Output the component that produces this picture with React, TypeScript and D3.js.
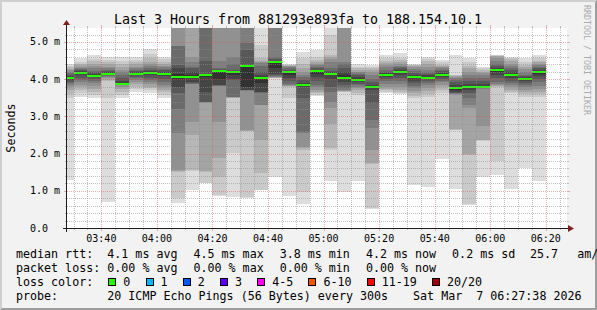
import React from "react";
import * as d3 from "d3";

// ---------- data ----------
const title = "Last 3 Hours from 881293e893fa to 188.154.10.1";
const startTime = "2026-03-07T03:27:38";
const endTime = "2026-03-07T06:27:38";
const firstSampleEnd = "2026-03-07T03:30:00";
const stepSeconds = 300;
const yMax = 5.376; // ms
const yTickValues = [0, 1, 2, 3, 4, 5];
const yTickLabels = ["0.0", "1.0 m", "2.0 m", "3.0 m", "4.0 m", "5.0 m"];
const xTickLabels = ["03:40", "04:00", "04:20", "04:40", "05:00", "05:20", "05:40", "06:00", "06:20"];
const yAxisTitle = "Seconds";
const watermark = "RRDTOOL / TOBI OETIKER";

// median RTT per 5-minute step (ms)
const medians = [
  4.02, 4.17, 4.09, 4.14, 3.87, 4.14, 4.16, 4.14, 4.07, 4.05,
  4.12, 4.23, 4.20, 4.36, 4.02, 4.47, 4.19, 3.84, 4.22, 4.14,
  4.04, 3.99, 3.79, 4.10, 4.20, 4.06, 4.04, 4.11, 3.75, 3.78,
  3.78, 4.24, 4.11, 4.01, 4.20,
];

// 20 sorted ping RTTs per step (ms)
const pings = [
  [1.29, 3.49, 3.60, 3.70, 3.78, 3.85, 3.90, 3.93, 3.97, 4.00, 4.04, 4.08, 4.12, 4.16, 4.20, 4.24, 4.28, 4.32, 4.36, 4.40],
  [3.53, 3.62, 3.70, 3.78, 3.85, 3.93, 3.98, 4.04, 4.10, 4.15, 4.19, 4.21, 4.24, 4.27, 4.30, 4.34, 4.38, 4.42, 4.47, 4.56],
  [3.50, 3.58, 3.66, 3.74, 3.82, 3.90, 3.96, 4.01, 4.05, 4.08, 4.10, 4.14, 4.18, 4.23, 4.29, 4.35, 4.42, 4.48, 4.55, 4.65],
  [0.71, 3.49, 3.95, 3.99, 4.02, 4.05, 4.08, 4.10, 4.12, 4.13, 4.15, 4.18, 4.22, 4.26, 4.30, 4.34, 4.40, 4.46, 4.52, 4.60],
  [3.49, 3.58, 3.66, 3.74, 3.80, 3.84, 3.86, 3.87, 3.88, 3.89, 3.90, 3.95, 4.02, 4.10, 4.18, 4.26, 4.33, 4.40, 4.48, 4.59],
  [3.66, 3.74, 3.80, 3.86, 3.92, 3.98, 4.03, 4.07, 4.10, 4.13, 4.15, 4.18, 4.21, 4.25, 4.29, 4.34, 4.40, 4.45, 4.51, 4.59],
  [3.62, 3.70, 3.76, 3.80, 3.86, 3.92, 3.98, 4.04, 4.10, 4.14, 4.18, 4.21, 4.25, 4.30, 4.36, 4.41, 4.47, 4.58, 4.69, 4.80],
  [3.50, 3.58, 3.66, 3.72, 3.78, 3.85, 3.92, 4.00, 4.08, 4.12, 4.16, 4.20, 4.24, 4.28, 4.32, 4.36, 4.40, 4.46, 4.53, 4.60],
  [0.68, 0.80, 1.50, 1.52, 1.55, 2.55, 3.20, 3.62, 3.80, 4.00, 4.15, 4.30, 4.38, 4.88, 4.90, 5.40, 5.45, 5.50, 5.55, 5.60],
  [1.02, 1.52, 1.55, 2.50, 2.86, 3.86, 3.88, 3.90, 3.93, 4.02, 4.10, 4.20, 4.29, 4.32, 4.45, 4.60, 5.40, 5.45, 5.50, 5.60],
  [1.20, 1.21, 1.50, 1.52, 3.37, 3.38, 3.39, 3.40, 3.66, 4.05, 4.10, 4.12, 4.50, 5.40, 5.42, 5.45, 5.50, 5.52, 5.55, 5.60],
  [0.87, 0.89, 1.38, 1.87, 2.86, 3.82, 3.83, 3.84, 3.85, 4.00, 4.22, 4.25, 4.27, 4.29, 4.50, 5.40, 5.45, 5.50, 5.55, 5.60],
  [0.82, 2.01, 3.49, 3.50, 3.51, 3.52, 3.53, 3.99, 4.00, 4.10, 4.20, 4.22, 4.25, 4.40, 4.60, 5.40, 5.45, 5.50, 5.55, 5.60],
  [0.80, 0.82, 2.61, 2.62, 2.63, 3.69, 3.70, 3.71, 3.72, 3.80, 4.37, 4.38, 4.78, 4.96, 5.40, 5.45, 5.50, 5.55, 5.60, 5.65],
  [1.01, 1.02, 1.47, 2.37, 3.30, 3.31, 3.64, 3.65, 3.66, 3.90, 4.03, 4.10, 4.20, 4.35, 4.43, 4.45, 4.50, 4.56, 4.92, 5.50],
  [1.38, 4.02, 4.03, 4.04, 4.05, 4.06, 4.08, 4.10, 4.15, 4.30, 4.45, 4.50, 4.55, 4.60, 5.40, 5.45, 5.50, 5.55, 5.60, 5.65],
  [0.87, 3.49, 3.80, 3.81, 3.82, 3.84, 3.88, 3.94, 4.02, 4.10, 4.18, 4.22, 4.26, 4.30, 4.33, 4.35, 4.36, 4.37, 4.38, 4.40],
  [0.65, 0.98, 2.10, 2.15, 2.19, 2.55, 2.59, 3.49, 3.80, 3.82, 3.86, 3.90, 3.98, 4.05, 4.11, 4.20, 4.29, 4.40, 4.56, 4.74],
  [3.56, 3.58, 3.62, 3.66, 3.70, 3.78, 3.85, 3.95, 4.05, 4.15, 4.22, 4.26, 4.30, 4.34, 4.37, 4.40, 4.46, 4.52, 4.60, 4.78],
  [1.25, 2.10, 2.14, 2.80, 3.22, 3.40, 3.66, 3.80, 4.00, 4.10, 4.15, 4.18, 4.22, 4.30, 4.45, 4.55, 4.60, 4.65, 5.19, 5.45],
  [0.96, 3.65, 3.66, 3.67, 3.68, 3.70, 3.75, 3.85, 3.93, 4.00, 4.10, 4.20, 4.30, 4.40, 4.47, 5.40, 5.45, 5.50, 5.55, 5.60],
  [1.25, 3.58, 3.62, 3.70, 3.76, 3.80, 3.84, 3.88, 3.92, 3.97, 4.01, 4.05, 4.10, 4.14, 4.18, 4.20, 4.25, 4.30, 4.34, 4.40],
  [0.52, 0.55, 1.72, 1.74, 2.10, 2.68, 2.90, 3.35, 3.70, 3.78, 3.81, 3.85, 3.92, 4.00, 4.10, 4.18, 4.25, 4.30, 4.34, 4.38],
  [3.62, 3.66, 3.70, 3.74, 3.80, 3.88, 3.95, 4.00, 4.05, 4.08, 4.12, 4.16, 4.20, 4.26, 4.32, 4.38, 4.44, 4.50, 4.56, 4.65],
  [3.59, 3.62, 3.66, 3.72, 3.80, 3.88, 3.96, 4.04, 4.12, 4.17, 4.22, 4.26, 4.29, 4.32, 4.36, 4.40, 4.46, 4.52, 4.58, 4.70],
  [1.16, 3.49, 3.55, 3.62, 3.68, 3.75, 3.82, 3.90, 3.96, 4.02, 4.08, 4.12, 4.16, 4.22, 4.28, 4.32, 4.36, 4.38, 4.39, 4.40],
  [1.10, 3.53, 3.60, 3.68, 3.76, 3.84, 3.90, 3.96, 4.00, 4.03, 4.06, 4.10, 4.15, 4.20, 4.26, 4.32, 4.40, 4.48, 4.54, 4.60],
  [1.86, 3.62, 3.70, 3.78, 3.85, 3.92, 3.96, 4.00, 4.05, 4.09, 4.13, 4.17, 4.21, 4.25, 4.29, 4.32, 4.35, 4.38, 4.45, 4.52],
  [1.05, 2.63, 2.64, 2.65, 3.58, 3.60, 3.62, 3.64, 3.66, 3.72, 3.78, 3.85, 3.92, 3.98, 4.03, 4.06, 4.08, 4.10, 4.11, 4.65],
  [0.62, 0.64, 1.96, 1.98, 3.22, 3.30, 3.50, 3.62, 3.70, 3.76, 3.80, 3.86, 3.94, 4.02, 4.11, 4.20, 4.29, 4.35, 4.45, 4.56],
  [1.36, 2.35, 2.36, 2.37, 2.73, 3.74, 3.75, 3.76, 3.77, 3.78, 3.82, 3.88, 3.94, 4.02, 4.11, 4.16, 4.20, 4.25, 4.30, 4.34],
  [1.42, 1.80, 3.80, 3.82, 3.84, 3.86, 3.92, 4.02, 4.10, 4.20, 4.26, 4.29, 4.35, 4.42, 4.50, 4.56, 4.62, 4.63, 4.64, 4.65],
  [1.05, 3.62, 3.66, 3.72, 3.78, 3.84, 3.90, 3.96, 4.04, 4.09, 4.13, 4.18, 4.24, 4.29, 4.35, 4.42, 4.50, 4.55, 4.58, 4.60],
  [1.60, 3.53, 3.60, 3.66, 3.72, 3.78, 3.84, 3.90, 3.95, 4.00, 4.03, 4.06, 4.09, 4.12, 4.20, 4.28, 4.34, 4.38, 4.46, 4.56],
  [1.25, 3.53, 3.60, 3.66, 3.74, 3.82, 3.93, 4.00, 4.08, 4.15, 4.22, 4.26, 4.30, 4.34, 4.38, 4.42, 4.45, 4.50, 4.56, 4.65],
];

// legend
const rttLabel = "median rtt:";
const rttStats = ["4.1 ms avg", "4.5 ms max", "3.8 ms min", "4.2 ms now", "0.2 ms sd"];
const rttExtra = ["25.7", "am/"];
const lossLabel = "packet loss:";
const lossStats = ["0.00 % avg", "0.00 % max", "0.00 % min", "0.00 % now"];
const lossColorLabel = "loss color:";
const lossNames = ["0", "1", "2", "3", "4-5", "6-10", "11-19", "20/20"];
const lossColors = ["#26ff00", "#00b8ff", "#0059ff", "#5e00ff", "#ff00f0", "#ff5500", "#ff0000", "#a10000"];
const probeLabel = "probe:";
const probeText = "20 ICMP Echo Pings (56 Bytes) every 300s";
const dateText = "Sat Mar  7 06:27:38 2026";

// ---------- chart ----------
const MONO = "'DejaVu Sans Mono', 'Liberation Mono', monospace";

export default function App() {
  const W = 597, H = 310;
  const X0 = 67, X1 = 567, YB = 228, YT = 28;
  const t0 = new Date(startTime), t1 = new Date(endTime);
  const x = d3.scaleTime().domain([t0, t1]).range([X0, X1]);
  const y = d3.scaleLinear().domain([0, yMax]).range([YB, YT]);
  const firstEnd = new Date(firstSampleEnd).getTime();

  const bars = medians.map((m, k) => {
    const end = new Date(firstEnd + k * stepSeconds * 1000);
    const start = new Date(end.getTime() - stepSeconds * 1000);
    return { xa: Math.max(X0, Math.round(x(start))), xb: Math.round(x(end)), m, p: pings[k] };
  });

  const grayOf = (i: number) => {
    const g = Math.floor((190 / 10) * (10 - (i + 1))) + 50;
    const h = g.toString(16).padStart(2, "0");
    return "#" + h + h + h;
  };

  const minorX = d3.timeMinute.every(5)!.range(t0, t1).filter((d) => d.getMinutes() % 20 !== 0);
  const majorX = xTickLabels.map((l) => new Date(startTime.slice(0, 11) + l + ":00"));
  const minorY = d3.range(1, 27).map((i) => +(i * 0.2).toFixed(1)).filter((v) => Math.abs(v - Math.round(v)) > 1e-6);

  const GRID = "rgba(143,143,143,0.55)";
  const MGRID = "rgba(222,79,79,0.45)";
  const px = (v: number) => Math.round(v) + 0.5;

  const cw = 7.02; // legend char width
  const statX = (i: number) => 107.3 + i * 86.2;
  let cursor = 108.3;
  const swatches = lossNames.map((name, i) => {
    const sx = cursor;
    const tx = sx + 15;
    cursor = tx + name.length * cw + 15.2;
    return { sx, tx, name, color: lossColors[i] };
  });

  return (
    <svg
      width={W}
      height={H}
      style={{ position: "fixed", left: 0, top: 0, display: "block" }}
      xmlns="http://www.w3.org/2000/svg"
    >
      <defs>
        <clipPath id="plot">
          <rect x={X0} y={YT} width={X1 - X0} height={YB - YT} />
        </clipPath>
      </defs>
      {/* background + 3d frame */}
      <rect x={0} y={0} width={W} height={H} fill="#f2f2f2" />
      <polygon points={`0,0 ${W},0 ${W - 2},2 2,2 2,${H - 2} 0,${H}`} fill="#cfcfcf" />
      <polygon points={`${W},0 ${W},${H} 0,${H} 2,${H - 2} ${W - 2},${H - 2} ${W - 2},2`} fill="#9e9e9e" />
      {/* canvas */}
      <rect x={X0} y={YT} width={X1 - X0} height={YB - YT} fill="#ffffff" />

      {/* smoke */}
      <g clipPath="url(#plot)" shapeRendering="crispEdges">
        {bars.map((b, k) => (
          <g key={k}>
            {d3.range(10).map((i) => {
              const lo = b.p[i], hi = b.p[19 - i];
              const ya = y(hi), yb = y(lo);
              return <rect key={i} x={b.xa} y={ya} width={b.xb - b.xa} height={Math.max(0, yb - ya)} fill={grayOf(i)} />;
            })}
            <rect x={b.xa} y={Math.round(y(b.m)) - 1} width={b.xb - b.xa} height={2} fill={lossColors[0]} />
          </g>
        ))}
      </g>

      {/* grid */}
      <g>
        {minorY.map((v, i) => {
          const yy = px(y(v));
          return (
            <g key={"my" + i}>
              <line x1={X0 - 2} x2={X0} y1={yy} y2={yy} stroke={GRID} />
              <line x1={X1} x2={X1 + 2} y1={yy} y2={yy} stroke={GRID} />
              <line x1={X0} x2={X1} y1={yy} y2={yy} stroke={GRID} strokeDasharray="1,1" />
            </g>
          );
        })}
        {minorX.map((d, i) => {
          const xx = px(x(d));
          return (
            <g key={"mx" + i}>
              <line x1={xx} x2={xx} y1={YB} y2={YB + 2} stroke={GRID} />
              <line x1={xx} x2={xx} y1={YT - 2} y2={YT} stroke={GRID} />
              <line x1={xx} x2={xx} y1={YT} y2={YB} stroke={GRID} strokeDasharray="1,1" />
            </g>
          );
        })}
        {yTickValues.filter((v) => v > 0).map((v, i) => {
          const yy = px(y(v));
          return (
            <g key={"My" + i}>
              <line x1={X0 - 3} x2={X0} y1={yy} y2={yy} stroke={MGRID} />
              <line x1={X1} x2={X1 + 3} y1={yy} y2={yy} stroke={MGRID} />
              <line x1={X0} x2={X1} y1={yy} y2={yy} stroke={MGRID} strokeDasharray="1,1" />
            </g>
          );
        })}
        {majorX.map((d, i) => {
          const xx = px(x(d));
          return (
            <g key={"Mx" + i}>
              <line x1={xx} x2={xx} y1={YB} y2={YB + 3} stroke={MGRID} />
              <line x1={xx} x2={xx} y1={YT - 3} y2={YT} stroke={MGRID} />
              <line x1={xx} x2={xx} y1={YT} y2={YB} stroke={MGRID} strokeDasharray="1,1" />
            </g>
          );
        })}
      </g>

      {/* axes */}
      <line x1={X0 - 4} x2={X1 + 2} y1={YB + 0.5} y2={YB + 0.5} stroke="#1f1f1f" />
      <line x1={X0 - 0.5} x2={X0 - 0.5} y1={YB + 4} y2={YT - 4} stroke="#1f1f1f" />
      <polygon points={`${X1 + 1},${YB - 3} ${X1 + 7},${YB + 0.5} ${X1 + 1},${YB + 4}`} fill="#801f1f" />
      <polygon points={`${X0 - 4},${YT - 3} ${X0 - 0.5},${YT - 8} ${X0 + 3},${YT - 3}`} fill="#801f1f" />

      {/* tick labels */}
      <g fontFamily={MONO} fontSize={10} fill="#000">
        {yTickValues.map((v, i) => (
          <text key={"yl" + i} x={30} y={y(v)} dominantBaseline="central">
            {yTickLabels[i]}
          </text>
        ))}
        {majorX.map((d, i) => (
          <text key={"xl" + i} x={x(d)} y={242} textAnchor="middle">
            {xTickLabels[i]}
          </text>
        ))}
      </g>

      {/* titles */}
      <text x={298} y={23.5} textAnchor="middle" fontFamily={MONO} fontSize={13.3} fill="#000">
        {title}
      </text>
      <text
        x={11}
        y={128}
        transform="rotate(-90 11 128)"
        textAnchor="middle"
        dominantBaseline="central"
        fontFamily={MONO}
        fontSize={11.7}
        fill="#000"
      >
        {yAxisTitle}
      </text>
      <text x={587} y={5} transform="rotate(90 587 5)" fontFamily={MONO} fontSize={8.3} fill="#aaaaaa" dominantBaseline="central">
        {watermark}
      </text>

      {/* legend */}
      <g fontFamily={MONO} fontSize={11.66} fill="#000" style={{ whiteSpace: "pre" }}>
        <text x={16} y={258}>{rttLabel}</text>
        {rttStats.map((s, i) => (
          <text key={i} x={statX(i)} y={258}>{s}</text>
        ))}
        <text x={530} y={258}>{rttExtra[0]}</text>
        <text x={577.3} y={258}>{rttExtra[1]}</text>

        <text x={16} y={272}>{lossLabel}</text>
        {lossStats.map((s, i) => (
          <text key={i} x={statX(i)} y={272}>{s}</text>
        ))}

        <text x={16} y={286}>{lossColorLabel}</text>
        {swatches.map((s, i) => (
          <g key={i}>
            <rect x={Math.round(s.sx) + 0.5} y={278.5} width={7} height={7} fill={s.color} stroke="#000" />
            <text x={s.tx} y={286}>{s.name}</text>
          </g>
        ))}

        <text x={16} y={300}>{probeLabel}</text>
        <text x={107.3} y={300}>{probeText}</text>
        <text x={581.5} y={300} textAnchor="end" xmlSpace="preserve">{dateText}</text>
      </g>
    </svg>
  );
}
